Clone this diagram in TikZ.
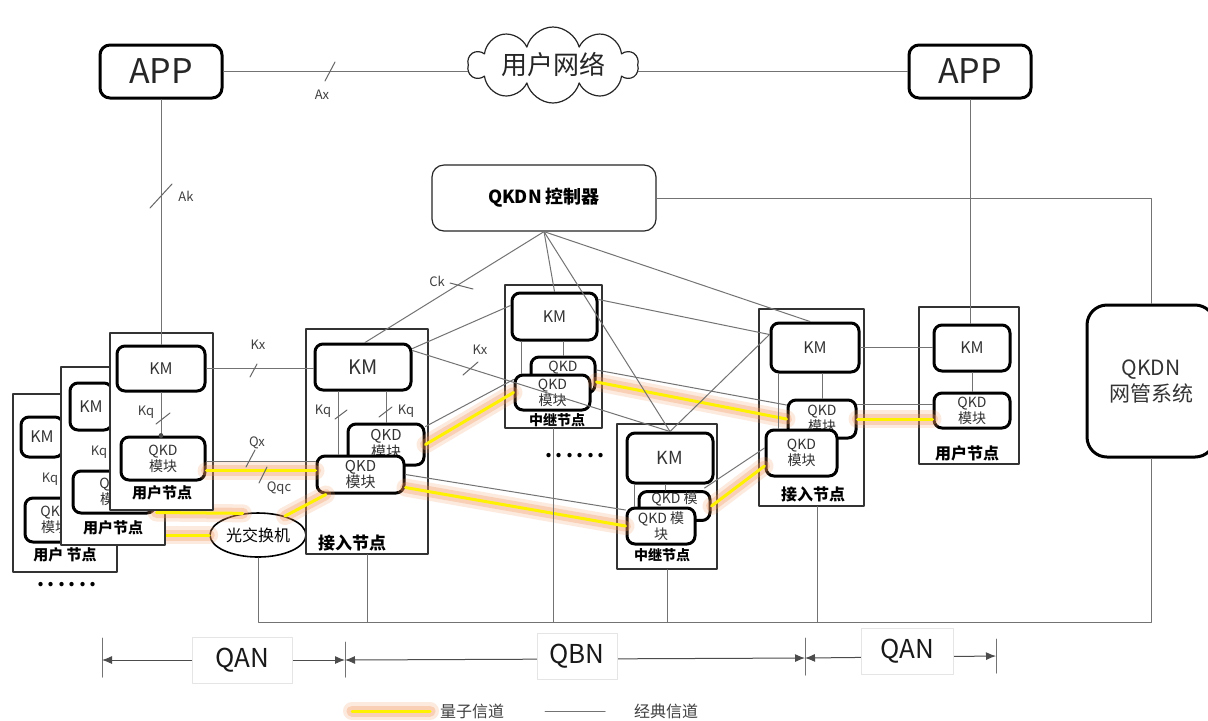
\documentclass[tikz,border=0pt]{standalone}
\usepackage{fontspec}
\setmainfont{Noto Sans CJK SC}
\usetikzlibrary{arrows.meta,calc,shapes.geometric,shapes.symbols}
\definecolor{glowpeach}{RGB}{244,150,90}

\begin{document}
\begin{tikzpicture}[x=0.5pt, y=-0.5pt, line cap=round, line join=round,
  wire/.style={draw=black!55, line width=0.5pt},
  tickmark/.style={draw=black!60, line width=0.5pt},
  qline/.style={draw=yellow, line width=1.5pt,
    preaction={draw=glowpeach, draw opacity=0.2, line width=9pt},
    preaction={draw=glowpeach, draw opacity=0.3, line width=5.5pt}},
  nodeframe/.style={draw=black!80, line width=0.6pt, fill=white, inner sep=0pt},
  appbox/.style={draw=black, line width=1.5pt, rounded corners=5pt, fill=white, inner sep=0pt,
    minimum width=61pt, minimum height=26.5pt, text=black!85, font=\fontsize{17}{18}\selectfont},
  kmbox/.style={draw=black, line width=1.5pt, rounded corners=4pt, fill=white,
    inner sep=0pt, text=black!80, font=\fontsize{8}{9}\selectfont},
  qkdbox/.style={kmbox, align=center, font=\fontsize{7}{8}\selectfont},
  nodetag/.style={font=\fontsize{7.5}{8}\selectfont\bfseries},
  lbl/.style={text=black!75, font=\fontsize{6.5}{7}\selectfont},
  spanline/.style={draw=black!70, line width=0.5pt, {Latex[length=5pt,width=4pt]}-{Latex[length=5pt,width=4pt]}},
  spanlbl/.style={fill=white, draw=black!10, line width=0.4pt, inner sep=0pt,
    minimum height=23pt, text=black!90, font=\fontsize{13}{14}\selectfont}]

  \path[fill=white, use as bounding box] (0,0) rectangle (1208,720);

  % applications, user network, controller, management
  \node[appbox] (appL) at (161,71.5) {APP};
  \node[appbox] (appR) at (970,71.5) {APP};
  \node[cloud, cloud puffs=10, cloud ignores aspect, draw=black!85, line width=0.6pt, fill=white,
    minimum width=85pt, minimum height=38pt, inner sep=0pt] (net) at (553,65) {};
  \node[text=black!85, font=\fontsize{13}{14}\selectfont] (netText) at (net.center) {用户网络};
  \node[draw=black!85, line width=0.6pt, rounded corners=6pt, fill=white, inner sep=0pt,
    minimum width=112pt, minimum height=33pt, font=\fontsize{9}{10}\selectfont\bfseries] (ctrl) at (544,198) {QKDN 控制器};
  \node[draw=black, line width=1.5pt, rounded corners=10pt, fill=white, inner sep=0pt, align=center,
    minimum width=64pt, minimum height=76pt, text=black!80, font=\fontsize{10.5}{13}\selectfont] (nms) at (1151,381) {QKDN\\网管系统};

  % optical switch
  \node[ellipse, draw=black, line width=0.8pt, fill=white, inner sep=0pt,
    minimum width=48pt, minimum height=22pt, font=\fontsize{8}{9}\selectfont] (sw) at (258,535) {光交换机};

  % stack of user nodes, back to front
  \node[nodeframe, minimum width=52pt, minimum height=89pt] (uB) at (65,483) {};
  \node[kmbox, minimum width=21pt, minimum height=20pt] (kmB) at (42,437) {KM};
  \node[qkdbox, minimum width=30pt, minimum height=22pt] (qkdB) at (55,520) {QKD\\模块};
  \node[lbl] (kqB) at (50,479) {Kq};
  \node[nodetag] (tagB) at (65,555) {用户 节点};
  \draw[qline] (sw.west -| qkdB.east) -- (sw.west);

  \node[nodeframe, minimum width=52pt, minimum height=89pt] (uM) at (113,456) {};
  \node[kmbox, minimum width=21pt, minimum height=23.5pt] (kmM) at (91,406.5) {KM};
  \node[qkdbox, minimum width=41pt, minimum height=21pt] (qkdM) at (114,492) {QKD\\模块};
  \node[lbl] (kqM) at (99,452) {Kq};
  \node[nodetag] (tagM) at (113,528) {用户节点};
  \draw[qline] ($(qkdM.south east)+(0,-2)$) -- (sw.125);

  \node[nodeframe, minimum width=51.5pt, minimum height=88.5pt] (uF) at (161.5,421.5) {};
  \node[kmbox, minimum width=44pt, minimum height=22.5pt] (kmF) at (161,368.5) {KM};
  \node[qkdbox, minimum width=42pt, minimum height=21.5pt] (qkdF) at (163,458.5) {QKD\\模块};
  \node[nodetag] (tagF) at (162,493) {用户节点};
  \node[lbl] (kqF) at (146,412) {Kq};
  \node[font=\fontsize{10}{10}\selectfont\bfseries] (moreU) at (67,585) {.\,.\,.\,.\,.\,.};

  % access node, left
  \node[nodeframe, minimum width=61pt, minimum height=112.5pt] (aL) at (367,441.5) {};
  \node[kmbox, minimum width=48pt, minimum height=23pt, font=\fontsize{10}{11}\selectfont] (kmAL) at (363,367) {KM};
  \node[qkdbox, minimum width=38pt, minimum height=20.5pt, font=\fontsize{7.5}{8.5}\selectfont] (qkdAL2) at (386,444.5) {QKD\\模块};
  \node[qkdbox, minimum width=43.5pt, minimum height=18.5pt, font=\fontsize{7.5}{8.5}\selectfont] (qkdAL1) at (360.5,474.5) {QKD\\模块};
  \node[nodetag, font=\fontsize{8.5}{9}\selectfont\bfseries] (tagAL) at (352,543) {接入节点};
  \node[lbl] (kqAL1) at (323,411) {Kq};
  \node[lbl] (kqAL2) at (406,411) {Kq};

  % relay node, top
  \node[nodeframe, minimum width=48.5pt, minimum height=71.5pt] (rT) at (553.5,356.5) {};
  \node[kmbox, minimum width=42.5pt, minimum height=23.5pt] (kmRT) at (554.5,316.5) {KM};
  \node[qkdbox, minimum width=32pt, minimum height=18pt] (qkdRT2) at (563,375) {QKD\\模块};
  \node[qkdbox, minimum width=37.5pt, minimum height=17.5pt] (qkdRT1) at (552.5,392.5) {QKD\\模块};
  \node[nodetag, font=\fontsize{7}{8}\selectfont\bfseries] (tagRT) at (557,420) {中继节点};
  \node[font=\fontsize{10}{10}\selectfont\bfseries] (moreR) at (575,456) {.\,.\,.\,.\,.\,.};

  % relay node, bottom
  \node[nodeframe, minimum width=50pt, minimum height=72.5pt] (rB) at (667,496.5) {};
  \node[kmbox, minimum width=43pt, minimum height=25pt, font=\fontsize{9}{10}\selectfont] (kmRB) at (670,458) {KM};
  \node[qkdbox, minimum width=35.5pt, minimum height=14pt] (qkdRB2) at (674.5,506) {QKD 模\\块};
  \node[qkdbox, minimum width=34pt, minimum height=18pt] (qkdRB1) at (661,526) {QKD 模\\块};
  \node[nodetag, font=\fontsize{7}{8}\selectfont\bfseries] (tagRB) at (662,555) {中继节点};

  % access node, right
  \node[nodeframe, minimum width=52.5pt, minimum height=98.5pt] (aR) at (811.5,407.5) {};
  \node[kmbox, minimum width=44pt, minimum height=24.5pt] (kmAR) at (815,347.5) {KM};
  \node[qkdbox, minimum width=34pt, minimum height=19pt] (qkdAR2) at (822,419) {QKD\\模块};
  \node[qkdbox, minimum width=35.5pt, minimum height=23pt] (qkdAR1) at (801.5,453) {QKD\\模块};
  \node[nodetag, font=\fontsize{8}{9}\selectfont\bfseries] (tagAR) at (813,494) {接入节点};

  % user node, right
  \node[nodeframe, minimum width=50pt, minimum height=78.5pt] (uR) at (969,385.5) {};
  \node[kmbox, minimum width=38pt, minimum height=23pt] (kmUR) at (972,348) {KM};
  \node[qkdbox, minimum width=38pt, minimum height=17.5pt] (qkdUR) at (972,410.5) {QKD\\模块};
  \node[nodetag, font=\fontsize{8}{9}\selectfont\bfseries] (tagUR) at (967,453) {用户节点};

  % quantum channels
  \coordinate (qqA) at ($(qkdF.east)+(0,12)$);
  \draw[qline] (qqA) -- (qqA -| qkdAL1.west);
  \draw[qline] (sw.35) -- (qkdAL1.-150);
  \draw[qline] (qkdAL2.east) -- (qkdRT1.west);
  \draw[qline] ($(qkdAL1.east)+(0,13)$) -- (qkdRB1.west);
  \draw[qline] ($(qkdRT2.east)+(0,7)$) -- (qkdAR2.west);
  \draw[qline] (qkdRB2.east) -- ($(qkdAR1.west)+(0,13)$);
  \draw[qline] (qkdAR2.east) -- (qkdAR2.east -| qkdUR.west);

  % application links
  \draw[wire] (appL.east) -- (appL.east -| net.west);
  \draw[wire] (appR.west) -- (appR.west -| net.east);
  \draw[tickmark] (325,81) -- (335,62);
  \node[lbl] (ax) at (322,95) {Ax};
  \draw[wire] (appL.south) -- (kmF.north);
  \draw[tickmark] (150,208) -- (172,184);
  \node[lbl] (ak) at (186,196) {Ak};
  \draw[wire] (appR.south) -- (appR.south |- kmUR.north);

  % management bus
  \draw[wire] (ctrl.east) -- (ctrl.east -| nms.north) -- (nms.north);
  \coordinate (busR) at (1151,622);
  \coordinate (busL) at (258,622);
  \coordinate (aRdrop) at ($(aR.south)+(6,0)$);
  \draw[wire] (nms.south) -- (busR) -- (busL) -- (sw.south);
  \draw[wire] (aL.south) -- (aL.south |- busL);
  \draw[wire] (rT.south) -- (rT.south |- busL);
  \draw[wire] (rB.south) -- (rB.south |- busL);
  \draw[wire] (aRdrop) -- (aRdrop |- busL);

  % controller to key managers
  \draw[wire] (ctrl.south) -- ($(kmAL.north)+(2,0)$);
  \draw[wire] (ctrl.south) -- (kmRT.north);
  \draw[wire] (ctrl.south) -- (kmRB.north);
  \draw[wire] (ctrl.south) -- ($(kmAR.north)+(-5,0)$);
  \draw[tickmark] (450,283) -- (473,289);
  \node[lbl] (ck) at (437,281) {Ck};

  % key manager links
  \draw[wire] (kmF.east) -- (kmF.east -| kmAL.west);
  \draw[tickmark] (250,377) -- (257,364);
  \node[lbl] (kx1) at (258,345) {Kx};
  \draw[wire] ($(kmAL.north east)+(0,6)$) -- ($(kmRT.north west)+(0,14)$);
  \draw[wire] ($(kmAL.north east)+(0,8)$) -- (kmRB.north);
  \draw[tickmark] (463,375) -- (478,362);
  \node[lbl] (kx2) at (480,350) {Kx};
  \draw[wire] ($(kmRT.north east)+(0,8)$) -- ($(kmAR.north west)+(0,13)$);
  \draw[wire] (kmRB.north) -- ($(kmAR.north west)+(0,13)$);
  \draw[wire] (kmAR.east) -- (kmAR.east -| kmUR.west);

  % key manager to QKD module
  \draw[wire] (kmF.south) -- (kmF.south |- qkdF.north);
  \fill[black!70] (kmF.south |- qkdF.north) circle (1.2pt);
  \draw[tickmark] (156,424) -- (170,413);
  \draw[wire] ($(kmAL.south west)+(25,0)$) -- ($(qkdAL1.north west)+(23,0)$);
  \draw[wire] (qkdAL2.north |- kmAL.south) -- (qkdAL2.north);
  \draw[tickmark] (335,419) -- (347,410);
  \draw[tickmark] (379,417) -- (392,407);
  \draw[wire] ($(kmRT.south west)+(11,0)$) -- ($(qkdRT1.north west)+(8,0)$);
  \draw[wire] (qkdRT2.north |- kmRT.south) -- (qkdRT2.north);
  \draw[wire] ($(kmRB.south west)+(9,0)$) -- ($(qkdRB1.north west)+(9,0)$);
  \draw[wire] ($(kmRB.south west)+(40,0)$) -- ($(qkdRB2.north west)+(28,0)$);
  \draw[wire] ($(kmAR.south west)+(9,0)$) -- ($(qkdAR1.north west)+(14,0)$);
  \draw[wire] (qkdAR2.north |- kmAR.south) -- (qkdAR2.north);
  \draw[wire] (kmUR.south) -- (qkdUR.north);

  % classical lines beside quantum channels
  \coordinate (qxA) at ($(qkdF.east)+(0,3)$);
  \draw[wire] (qxA) -- (qxA -| qkdAL1.west);
  \draw[tickmark] (246,467) -- (255,450);
  \node[lbl] (qx) at (257,443) {Qx};
  \draw[tickmark] (259,483) -- (267,467);
  \node[lbl] (qqc) at (279,488) {Qqc};
  \draw[wire] ($(qkdAL2.north east)+(0,4)$) -- ($(qkdRT1.north west)+(0,6)$);
  \draw[wire] (qkdAL1.east) -- ($(qkdRB1.west)+(0,-16)$);
  \draw[wire] ($(qkdRT2.east)+(0,-5)$) -- ($(qkdAR2.west)+(0,-14)$);
  \draw[wire] ($(qkdRB2.north east)+(-7,-2)$) -- ($(qkdAR1.west)+(0,-5)$);
  \coordinate (gUR) at ($(qkdAR2.east)+(0,-15)$);
  \draw[wire] (gUR) -- (gUR -| qkdUR.west);

  % network spans
  \coordinate (s0) at (102,660);
  \coordinate (s1) at (345,660);
  \coordinate (s2) at (805,658);
  \coordinate (s3) at (996,656);
  \draw[wire] ($(s0)+(0,-22)$) -- ($(s0)+(0,17)$);
  \draw[wire] ($(s1)+(0,-18)$) -- ($(s1)+(0,17)$);
  \draw[wire] ($(s2)+(0,-20)$) -- ($(s2)+(0,17)$);
  \draw[wire] ($(s3)+(0,-17)$) -- ($(s3)+(0,17)$);
  \draw[spanline] (s0) -- (s1);
  \draw[spanline] (s1) -- (s2);
  \draw[spanline] (s2) -- (s3);
  \node[spanlbl, minimum width=50pt] (qan1) at (242,660) {QAN};
  \node[spanlbl, minimum width=40pt] (qbn) at (577,656) {QBN};
  \node[spanlbl, minimum width=46pt] (qan2) at (907,651) {QAN};

  % legend
  \coordinate (lgA) at (352,711);
  \coordinate (lgB) at (430,711);
  \draw[qline] (lgA) -- (lgB);
  \node[text=black!75, font=\fontsize{8}{9}\selectfont] (lgQ) at (472,711) {量子信道};
  \coordinate (lgC) at (545,711);
  \coordinate (lgD) at (605,711);
  \draw[wire] (lgC) -- (lgD);
  \node[text=black!75, font=\fontsize{8}{9}\selectfont] (lgK) at (666,711) {经典信道};
\end{tikzpicture}
\end{document}
